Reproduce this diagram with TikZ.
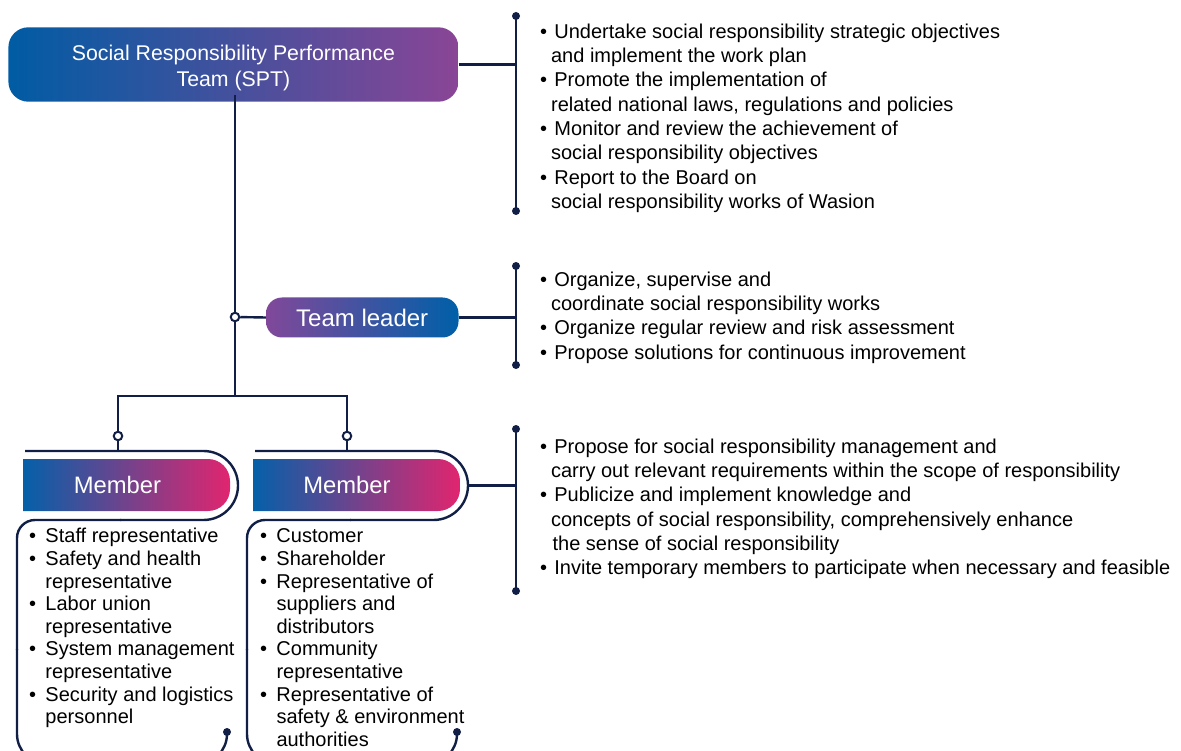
\documentclass[tikz,border=0pt]{standalone}
\usepackage{fontspec}
\setmainfont{Liberation Sans}
\definecolor{navy}{HTML}{111E46}
\definecolor{tblue}{HTML}{005CA4}
\definecolor{tpurple}{HTML}{8A4596}
\definecolor{lpurple}{HTML}{81489A}
\definecolor{lblue}{HTML}{005FA8}
\definecolor{mblue}{HTML}{0460A9}
\definecolor{mmid}{HTML}{9A5090}
\definecolor{mpink}{HTML}{E1256F}
\newcommand{\rb}{\makebox[14.2pt][l]{•}}
\newcommand{\rc}{\hspace*{10.9pt}}
\newcommand{\lb}{\makebox[16.5pt][l]{•}}
\newcommand{\lc}{\hspace*{16.5pt}}
\begin{document}
\begin{tikzpicture}[x=1pt,y=-1pt,
  ln/.style={draw=navy, line width=2.4pt},
  dotend/.style={circle, fill=navy, inner sep=0pt, minimum size=8pt},
  junc/.style={circle, draw=navy, line width=2pt, fill=white, inner sep=0pt, minimum size=8.5pt},
  titlebox/.style={rounded corners=20pt, minimum width=450pt, minimum height=74.4pt, inner sep=0pt,
    left color=tblue, right color=tpurple, text=white, align=center,
    font=\fontsize{21.3}{26}\selectfont},
  teambox/.style={rounded corners=16pt, minimum width=192.5pt, minimum height=40pt, inner sep=0pt,
    left color=lpurple, right color=lblue, text=white, font=\fontsize{24}{28}\selectfont},
  membar/.style={left color=mblue, middle color=mmid, right color=mpink},
  memtext/.style={text=white, inner sep=0pt, font=\fontsize{23.8}{28}\selectfont},
  rtext/.style={anchor=north west, inner sep=0pt, align=left, text=black, font=\fontsize{20}{24.35}\selectfont},
  ltext/.style={anchor=north west, inner sep=0pt, align=left, text=black, font=\fontsize{20}{22.6}\selectfont},
]
\useasboundingbox (0,0) rectangle (1181,751);
\clip (0,0) rectangle (1181,751);

% title and team leader
\node[titlebox] (spt) at (233.4,64.5) {\rule{0pt}{22.9pt}Social Responsibility Performance\\Team (SPT)};
\node[teambox] (tl) at (362.25,317.5) {Team leader};

% member bars
\path[membar] (23,459) -- (208,459) .. controls (220.15,459) and (230,468.85) .. (230,481) -- (230,489) .. controls (230,501.15) and (220.15,511) .. (208,511) -- (23,511) -- cycle;
\path[membar] (253,459) -- (438,459) .. controls (450.15,459) and (460,468.85) .. (460,481) -- (460,489) .. controls (460,501.15) and (450.15,511) .. (438,511) -- (253,511) -- cycle;
\node[memtext] (m1) at (117.5,484.5) {Member};
\node[memtext] (m2) at (347,484.5) {Member};

% member frames
\draw[ln, rounded corners=34.5pt] (25,451) -- (238,451) -- (238,520) -- (120,520);
\draw[ln, rounded corners=18pt] (121,520) -- (17,520) -- (17,650);
\draw[ln, rounded corners=30pt] (17,649) -- (17,764) -- (227,764) -- (227,732);
\draw[ln, rounded corners=34.5pt] (255,451) -- (468,451) -- (468,520) -- (350,520);
\draw[ln, rounded corners=18pt] (351,520) -- (247,520) -- (247,650);
\draw[ln, rounded corners=30pt] (247,649) -- (247,764) -- (457,764) -- (457,732);
\node[dotend] (e1) at (227,732) {};
\node[dotend] (e2) at (457,732) {};

% junctions and tree connectors
\node[junc] (j0) at (235,317) {};
\node[junc] (j1) at (118,436) {};
\node[junc] (j2) at (347,436) {};
\coordinate (split) at (235,396);
\coordinate (sl) at (118,396);
\coordinate (sr) at (347,396);
\coordinate (f1top) at (118,451);
\coordinate (f2top) at (347,451);
\coordinate (f2r) at (468,485.5);
\draw[ln] ([xshift=1.6pt,yshift=7pt]spt.south) -- (j0);
\draw[ln] (j0) -- (split);
\draw[ln] (j0) -- (tl.west);
\draw[ln] (j1) -- (sl) -- (sr) -- (j2);
\draw[ln] (j1) -- (f1top);
\draw[ln] (j2) -- (f2top);

% brackets
\node[dotend] (b1t) at (516,16) {};
\node[dotend] (b1b) at (516,211) {};
\node[dotend] (b2t) at (516,266) {};
\node[dotend] (b2b) at (516,365) {};
\node[dotend] (b3t) at (516,429) {};
\node[dotend] (b3b) at (516,591) {};
\draw[ln] (b1t.center) -- (b1b.center);
\draw[ln] (b2t.center) -- (b2b.center);
\draw[ln] (b3t.center) -- (b3b.center);
\draw[ln] (spt.east) -- (spt.east -| b1t);
\draw[ln] (tl.east) -- (tl.east -| b2t);
\draw[ln] (f2r) -- (f2r -| b3t);

% right texts
\node[rtext] (t1) at (540,23) {\rule{0pt}{15pt}\rb Undertake social responsibility strategic objectives\\
\rc and implement the work plan\\
\rb Promote the implementation of\\
\rc related national laws, regulations and policies\\
\rb Monitor and review the achievement of\\
\rc social responsibility objectives\\
\rb Report to the Board on\\
\rc social responsibility works of Wasion};

\node[rtext] (t2) at (540,271) {\rule{0pt}{15pt}\rb Organize, supervise and\\
\rc coordinate social responsibility works\\
\rb Organize regular review and risk assessment\\
\rb Propose solutions for continuous improvement};

\node[rtext] (t3) at (540,438) {\rule{0pt}{15pt}\rb Propose for social responsibility management and\\
\rc carry out relevant requirements within the scope of responsibility\\
\rb Publicize and implement knowledge and\\
\rc concepts of social responsibility, comprehensively enhance\\
\rc\hspace*{1.5pt}the sense of social responsibility\\
\rb Invite temporary members to participate when necessary and feasible};

% member lists
\node[ltext] (l1) at (28.8,527.7) {\rule{0pt}{15pt}\lb Staff representative\\
\lb Safety and health\\
\lc representative\\
\lb Labor union\\
\lc representative\\
\lb System management\\
\lc representative\\
\lb Security and logistics\\
\lc personnel};

\node[ltext] (l2) at (259.8,527.7) {\rule{0pt}{15pt}\lb Customer\\
\lb Shareholder\\
\lb Representative of\\
\lc suppliers and\\
\lc distributors\\
\lb Community\\
\lc representative\\
\lb Representative of\\
\lc safety \& environment\\
\lc authorities};
\end{tikzpicture}
\end{document}
